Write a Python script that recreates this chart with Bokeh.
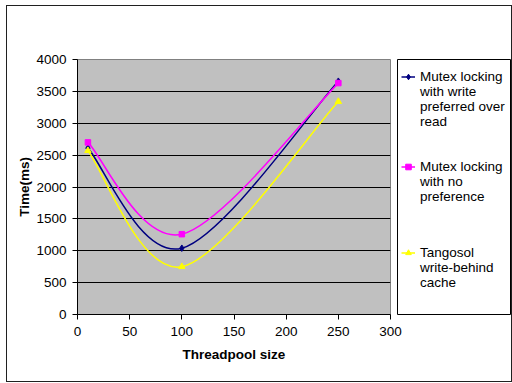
from bokeh.plotting import figure
from bokeh.layouts import row
from bokeh.models import Range1d, Legend, LegendItem, FixedTicker
from bokeh.embed import file_html
from bokeh.resources import INLINE

# ---- data ----
threadpool = [10, 100, 250]
mutex_write_pref = [2610, 1040, 3660]
mutex_no_pref = [2700, 1260, 3630]
tangosol = [2570, 750, 3340]

series_labels = [
    ["Mutex locking", "with write", "preferred over", "read"],
    ["Mutex locking", "with no", "preference"],
    ["Tangosol", "write-behind", "cache"],
]
x_ticks = [0, 50, 100, 150, 200, 250, 300]
y_ticks = [0, 500, 1000, 1500, 2000, 2500, 3000, 3500, 4000]
x_title = "Threadpool size"
y_title = "Time(ms)"

colors = ["#000080", "#FF00FF", "#FFFF00"]
markers = ["diamond", "square", "triangle"]
msizes = [6.5, 5.5, 6.5]

FONT = "Liberation Sans"
H = 15                       # legend line pitch (px)
LEG_W, LEG_H = 113, 263      # legend box (frame of the legend figure)
FIRST_LINE = [21, 111, 197]  # distance from legend top to each entry's first line
Y_FIX = 4.5                  # empirical offset of Bokeh's legend placement


def smooth_segments(xs, ys, t=1.0 / 6.0):
    """Excel-like smoothed line: cubic Bezier segments (Catmull-Rom control points)."""
    n = len(xs)
    segs = dict(x0=[], y0=[], x1=[], y1=[], cx0=[], cy0=[], cx1=[], cy1=[])
    for i in range(n - 1):
        im1 = max(i - 1, 0)
        ip2 = min(i + 2, n - 1)
        segs["x0"].append(xs[i]); segs["y0"].append(ys[i])
        segs["x1"].append(xs[i + 1]); segs["y1"].append(ys[i + 1])
        segs["cx0"].append(xs[i] + (xs[i + 1] - xs[im1]) * t)
        segs["cy0"].append(ys[i] + (ys[i + 1] - ys[im1]) * t)
        segs["cx1"].append(xs[i + 1] - (xs[ip2] - xs[i]) * t)
        segs["cy1"].append(ys[i + 1] - (ys[ip2] - ys[i]) * t)
    return segs


p = figure(
    width=396, height=375,
    x_range=Range1d(0, 300), y_range=Range1d(0, 4000),
    output_backend="svg", toolbar_location=None,
    min_border_left=70, min_border_right=13,
    min_border_top=53, min_border_bottom=67,
)
p.background_fill_color = "#C0C0C0"
p.border_fill_color = "white"
p.outline_line_color = "#808080"
p.outline_line_width = 1

p.xgrid.visible = False
p.ygrid.grid_line_color = "black"
p.ygrid.grid_line_width = 1
p.ygrid.grid_line_alpha = 1.0

p.xaxis.ticker = FixedTicker(ticks=x_ticks)
p.yaxis.ticker = FixedTicker(ticks=y_ticks)
for ax in (p.xaxis[0], p.yaxis[0]):
    ax.axis_line_color = "black"
    ax.major_tick_line_color = "black"
    ax.major_tick_out = 5
    ax.major_tick_in = 0
    ax.minor_tick_line_color = None
    ax.major_label_text_font = FONT
    ax.major_label_text_font_size = "13.5px"
    ax.major_label_text_color = "black"
    ax.axis_label_text_font = FONT
    ax.axis_label_text_font_size = "13.5px"
    ax.axis_label_text_font_style = "bold"
    ax.axis_label_text_color = "black"
p.xaxis.axis_label = x_title
p.yaxis.axis_label = y_title
p.xaxis.major_label_standoff = 7
p.xaxis.axis_label_standoff = 8
p.yaxis.major_label_standoff = 6
p.yaxis.axis_label_standoff = 1

series = [mutex_write_pref, mutex_no_pref, tangosol]
for ys, col, mk, ms in zip(series, colors, markers, msizes):
    segs = smooth_segments(threadpool, ys)
    p.bezier(x0="x0", y0="y0", x1="x1", y1="y1", cx0="cx0", cy0="cy0",
             cx1="cx1", cy1="cy1", source=segs, line_color=col, line_width=1.5)
    p.scatter(threadpool, ys, marker=mk, size=ms, fill_color=col, line_color=col)

# ---- legend: a small figure whose frame is the legend box ----
lf = figure(
    width=120, height=375,
    x_range=Range1d(0, 1), y_range=Range1d(0, 1),
    output_backend="svg", toolbar_location=None,
    min_border_left=6, min_border_right=1,
    min_border_top=50, min_border_bottom=62,
)
lf.axis.visible = False
lf.grid.visible = False
lf.background_fill_color = "white"
lf.border_fill_alpha = 0.0
lf.outline_line_color = "black"
lf.outline_line_width = 1
lf.margin = (0, 0, 0, -12)

for ys, col, mk, ms, lines, first in zip(series, colors, markers, msizes, series_labels, FIRST_LINE):
    # proxy renderers for the legend keys (their data lies outside this box's range)
    lr = lf.line(threadpool, ys, line_color=col, line_width=1.5)
    sr = lf.scatter(threadpool, ys, marker=mk, size=ms - 1, fill_color=col, line_color=col)
    items = [LegendItem(label=lines[0], renderers=[lr, sr])]
    items += [LegendItem(label=t, renderers=[]) for t in lines[1:]]
    top = first - H / 2.0
    bottom = LEG_H - top - H * len(lines) - Y_FIX
    leg = Legend(
        items=items, location=(4, bottom),
        label_text_font=FONT, label_text_font_size="13.5px", label_text_color="black",
        label_text_baseline="middle",
        glyph_width=14, glyph_height=H, label_height=H, label_standoff=5,
        padding=0, spacing=0, margin=0,
        border_line_color=None, background_fill_alpha=0.0,
    )
    lf.add_layout(leg, "center")

layout = row(p, lf, spacing=0)
layout.margin = (5, 0, 0, 6)
layout.styles = {"border": "1px solid #202020", "gap": "0px"}

open("out.html", "w").write(file_html(layout, INLINE))
